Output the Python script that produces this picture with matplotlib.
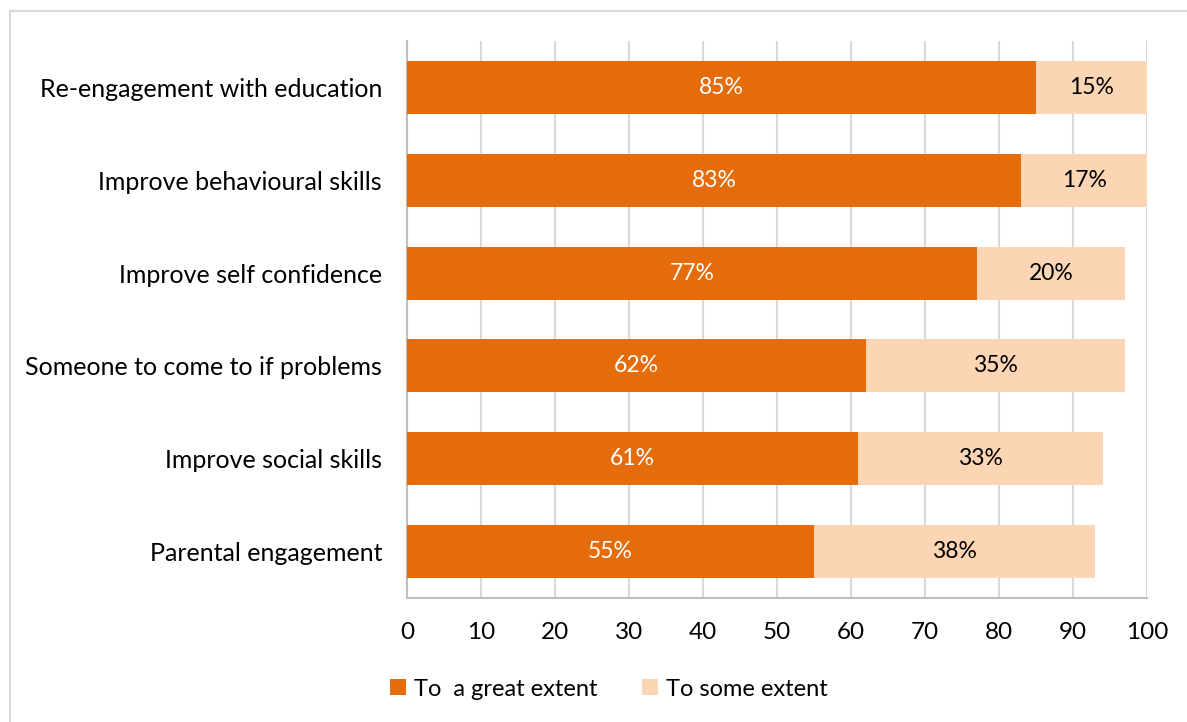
import matplotlib
matplotlib.use('Agg')
import matplotlib.pyplot as plt
from matplotlib.patches import Rectangle

plt.rcParams['font.family'] = ['Lato', 'DejaVu Sans']

# survey results, top to bottom
categories = ['Re-engagement with education', 'Improve behavioural skills',
              'Improve self confidence', 'Someone to come to if problems',
              'Improve social skills', 'Parental engagement']
great = [85, 83, 77, 62, 61, 55]
some = [15, 17, 20, 35, 33, 38]
series_names = ['To  a great extent', 'To some extent']

dark = '#E46C0A'
light = '#FCD5B5'

fig = plt.figure(figsize=(11.87, 7.22), dpi=100)
ax = fig.add_axes([407 / 1187, 1 - 598 / 722, 740 / 1187, 557 / 722])

# outer chart frame
fig.patches.append(Rectangle((10 / 1187, -0.1), 1.2, 1 - 11 / 722 + 0.1,
                             transform=fig.transFigure, fill=False,
                             edgecolor='#D9D9D9', linewidth=1.5))

y = list(range(len(categories)))[::-1]
h = 0.57
b1 = ax.barh(y, great, height=h, color=dark, label=series_names[0], zorder=3)
b2 = ax.barh(y, some, left=great, height=h, color=light, label=series_names[1], zorder=3)

for yi, g, s in zip(y, great, some):
    ax.text(g / 2, yi, f'{g}%', ha='center', va='center', color='white', fontsize=16.5, zorder=4)
    ax.text(g + s / 2, yi, f'{s}%', ha='center', va='center', color='black', fontsize=16.5, zorder=4)

ax.set_xlim(0, 100)
ax.set_ylim(-0.5, 5.5)
ax.set_xticks(range(0, 101, 10))
ax.set_yticks(y)
ax.set_yticklabels(categories)
ax.tick_params(axis='x', length=0, labelsize=17.5, colors='black', pad=17)
ax.tick_params(axis='y', length=0, labelsize=18, colors='black', pad=18)

ax.grid(axis='x', color='#D9D9D9', linewidth=1.5, zorder=0)
for side in ['top', 'right']:
    ax.spines[side].set_visible(False)
ax.spines['left'].set_color('#BFBFBF')
ax.spines['left'].set_linewidth(1.5)
ax.spines['bottom'].set_color('#BFBFBF')
ax.spines['bottom'].set_linewidth(1.5)

fig.legend(handles=[b1, b2], loc='center', bbox_to_anchor=(609 / 1187, 1 - 689 / 722),
           ncol=2, frameon=False, fontsize=17, handlelength=0.65, handleheight=0.65,
           handletextpad=0.35, columnspacing=1.9)

fig.savefig('out.png', dpi=100)
